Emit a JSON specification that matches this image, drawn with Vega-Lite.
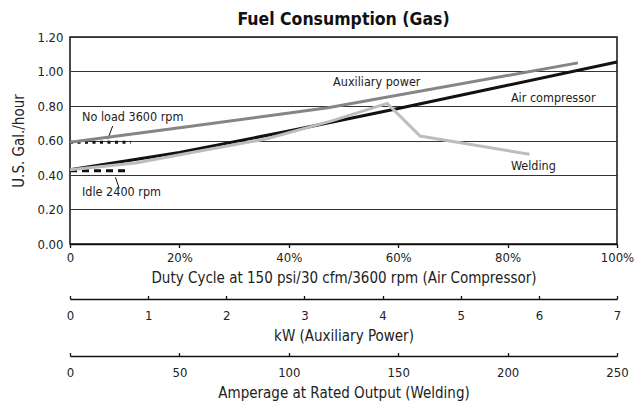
{
  "$schema": "https://vega.github.io/schema/vega-lite/v6.json",
  "autosize": "none",
  "width": 547,
  "height": 207,
  "padding": {"left": 70, "top": 37, "right": 17, "bottom": 160},
  "background": "white",
  "title": {"text": "Fuel Consumption (Gas)", "font": "DejaVu Sans Condensed, Liberation Sans", "fontSize": 17.5, "fontWeight": "bold", "color": "#111", "anchor": "middle", "frame": "group", "offset": 3},
  "config": {
    "view": {"stroke": "#111", "strokeWidth": 1.5},
    "font": "DejaVu Sans Condensed, Liberation Sans",
    "axis": {"labelFont": "DejaVu Sans Condensed, Liberation Sans", "titleFont": "DejaVu Sans Condensed, Liberation Sans", "labelFontSize": 13, "titleFontSize": 15, "titleFontWeight": "normal", "labelColor": "#222", "titleColor": "#222", "domainColor": "#111", "tickColor": "#111", "domainWidth": 1.5, "tickWidth": 1.3, "ticks": true, "labelFlush": false}
  },
  "datasets": {
    "lines": [
      {"series": "Air compressor", "x": 0, "y": 0.43},
      {"series": "Air compressor", "x": 20, "y": 0.53},
      {"series": "Air compressor", "x": 40, "y": 0.655},
      {"series": "Air compressor", "x": 60, "y": 0.785},
      {"series": "Air compressor", "x": 80, "y": 0.92},
      {"series": "Air compressor", "x": 100, "y": 1.055},
      {"series": "No load", "x": 0, "y": 0.59},
      {"series": "No load", "x": 11.1, "y": 0.59},
      {"series": "Idle", "x": 0, "y": 0.425},
      {"series": "Idle", "x": 10.6, "y": 0.425},
      {"series": "Auxiliary power", "x": 0, "y": 0.59},
      {"series": "Auxiliary power", "x": 1.5, "y": 0.68},
      {"series": "Auxiliary power", "x": 3.3, "y": 0.79},
      {"series": "Auxiliary power", "x": 6.5, "y": 1.05},
      {"series": "Welding", "x": 0, "y": 0.43},
      {"series": "Welding", "x": 30, "y": 0.47},
      {"series": "Welding", "x": 60, "y": 0.54},
      {"series": "Welding", "x": 90, "y": 0.61},
      {"series": "Welding", "x": 120, "y": 0.715},
      {"series": "Welding", "x": 145, "y": 0.815},
      {"series": "Welding", "x": 160, "y": 0.626},
      {"series": "Welding", "x": 210, "y": 0.52}
    ],
    "labels": [
      {"label": "No load 3600 rpm", "x": 2.2, "y": 0.736},
      {"label": "Idle 2400 rpm", "x": 2.2, "y": 0.30},
      {"label": "Auxiliary power", "x": 48.1, "y": 0.937},
      {"label": "Air compressor", "x": 80.6, "y": 0.848},
      {"label": "Welding", "x": 80.6, "y": 0.454}
    ],
    "leaders": [
      {"x": 7.8, "y": 0.684, "x2": 6.9, "y2": 0.607},
      {"x": 8.3, "y": 0.387, "x2": 9.0, "y2": 0.323}
    ]
  },
  "encoding": {
    "y": {"field": "y", "type": "quantitative", "scale": {"domain": [0, 1.2], "nice": false},
          "axis": {"values": [0, 0.2, 0.4, 0.6, 0.8, 1.0, 1.2], "format": ".2f", "labelOverlap": false, "grid": true, "gridColor": "#333", "gridWidth": 1, "domain": false, "ticks": false, "labelPadding": 7, "title": "U.S. Gal./hour", "titlePadding": 10}}
  },
  "layer": [
    {
      "layer": [
        {
          "data": {"name": "lines"},
          "transform": [{"filter": "datum.series == 'Air compressor'"}],
          "mark": {"type": "line", "color": "#111", "strokeWidth": 3},
          "encoding": {
            "x": {"field": "x", "type": "quantitative", "scale": {"domain": [0, 100], "nice": false, "zero": false},
                  "axis": {"values": [0, 20, 40, 60, 80, 100], "labelExpr": "datum.value == 0 ? '0' : datum.value + '%'", "grid": false, "ticks": true, "tickSize": 3.5, "labelPadding": 3.5, "titlePadding": 6, "title": "Duty Cycle at 150 psi/30 cfm/3600 rpm (Air Compressor)"}}
          }
        },
        {
          "data": {"name": "lines"},
          "transform": [{"filter": "datum.series == 'No load'"}],
          "mark": {"type": "line", "color": "#111", "strokeWidth": 3, "strokeDash": [3, 4.5], "strokeCap": "butt"},
          "encoding": {"x": {"field": "x", "type": "quantitative"}}
        },
        {
          "data": {"name": "lines"},
          "transform": [{"filter": "datum.series == 'Idle'"}],
          "mark": {"type": "line", "color": "#111", "strokeWidth": 3, "strokeDash": [7, 5], "strokeCap": "butt"},
          "encoding": {"x": {"field": "x", "type": "quantitative"}}
        },
        {
          "data": {"name": "leaders"},
          "mark": {"type": "rule", "color": "#111", "strokeWidth": 1},
          "encoding": {"x": {"field": "x", "type": "quantitative"}, "x2": {"field": "x2"}, "y2": {"field": "y2"}}
        },
        {
          "data": {"name": "labels"},
          "mark": {"type": "text", "align": "left", "baseline": "middle", "font": "DejaVu Sans Condensed, Liberation Sans", "fontSize": 12.5, "color": "#222"},
          "encoding": {"x": {"field": "x", "type": "quantitative"}, "text": {"field": "label"}}
        }
      ]
    },
    {
      "data": {"name": "lines"},
      "transform": [{"filter": "datum.series == 'Auxiliary power'"}],
      "mark": {"type": "line", "color": "#858585", "strokeWidth": 3},
      "encoding": {
        "x": {"field": "x", "type": "quantitative", "scale": {"domain": [0, 7], "nice": false, "zero": false},
              "axis": {"orient": "bottom", "offset": 55, "values": [0, 1, 2, 3, 4, 5, 6, 7], "grid": false, "ticks": true, "tickSize": -3.5, "labelPadding": 13.5, "titlePadding": 6, "title": "kW (Auxiliary Power)"}}
      }
    },
    {
      "data": {"name": "lines"},
      "transform": [{"filter": "datum.series == 'Welding'"}],
      "mark": {"type": "line", "color": "#bdbdbd", "strokeWidth": 3},
      "encoding": {
        "x": {"field": "x", "type": "quantitative", "scale": {"domain": [0, 250], "nice": false, "zero": false},
              "axis": {"orient": "bottom", "offset": 112, "values": [0, 50, 100, 150, 200, 250], "grid": false, "ticks": true, "tickSize": -3.5, "labelPadding": 13.5, "titlePadding": 6, "title": "Amperage at Rated Output (Welding)"}}
      }
    }
  ],
  "resolve": {"scale": {"x": "independent"}, "axis": {"x": "independent"}}
}
